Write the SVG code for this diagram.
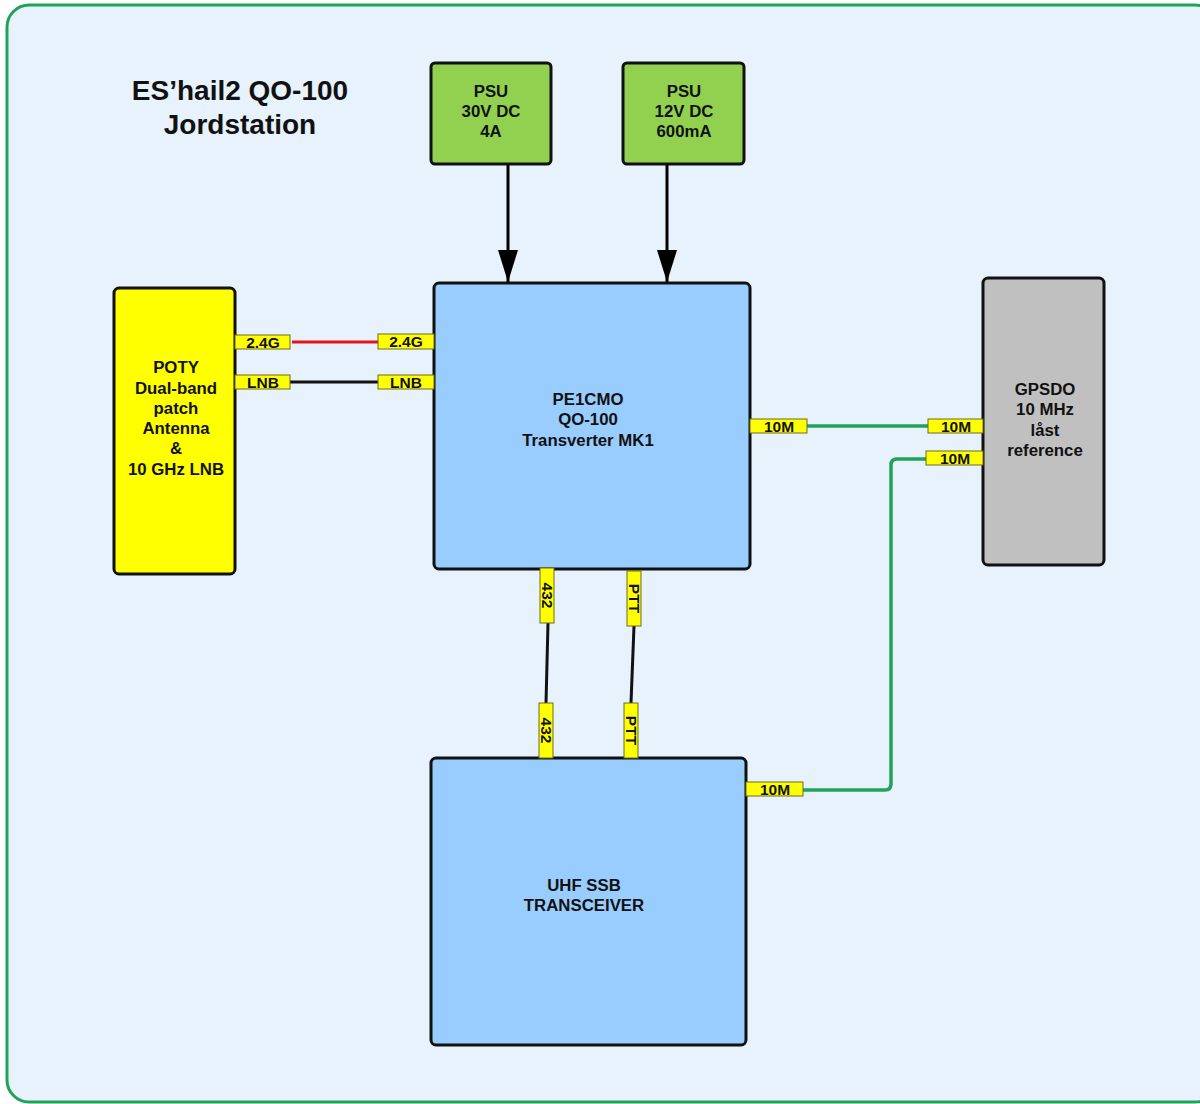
<svg xmlns="http://www.w3.org/2000/svg" width="1200" height="1104" viewBox="0 0 1200 1104">
<style>
.node{stroke:#111;stroke-width:3}
.t{font-family:"Liberation Sans",Arial,sans-serif;font-weight:bold;fill:#111;text-anchor:middle}
.nt{font-size:16.8px}
.port{fill:#ffff00;stroke:#6b6b1a;stroke-width:1}
.pt{font-family:"Liberation Sans",Arial,sans-serif;font-weight:bold;font-size:15.5px;fill:#111;text-anchor:middle}
.wire{fill:none;stroke-width:3}
.gw{stroke-width:3.5}
</style>
<defs>
<marker id="arrow" viewBox="0 0 32 20" refX="32" refY="10" markerWidth="32" markerHeight="20" markerUnits="userSpaceOnUse" orient="auto">
<path d="M0,0 L32,10 L0,20 z" fill="#000"/>
</marker>
</defs>
<rect x="7" y="5" width="1210" height="1097" rx="22" fill="#e8f2fc" stroke="#1fa35a" stroke-width="3"/>
<g id="title">
<text class="t" x="240" y="100" font-size="28">ES’hail2 QO-100</text>
<text class="t" x="240" y="134" font-size="28">Jordstation</text>
</g>
<g id="connectors">
<line x1="508" y1="164" x2="508" y2="282" stroke="#000" stroke-width="3" marker-end="url(#arrow)"/>
<line x1="667" y1="164" x2="667" y2="282" stroke="#000" stroke-width="3" marker-end="url(#arrow)"/>
<line class="wire" x1="292" y1="342" x2="378" y2="342" stroke="#e8121c"/>
<line class="wire" x1="290" y1="382" x2="378" y2="382" stroke="#111"/>
<line class="wire gw" x1="807" y1="426" x2="928" y2="426" stroke="#1fa35a"/>
<path class="wire gw" d="M926,459 H897 Q891,459 891,465 V784 Q891,790 885,790 H803" stroke="#1fa35a"/>
<line class="wire" x1="548" y1="623" x2="546" y2="703" stroke="#111"/>
<line class="wire" x1="634" y1="626" x2="631" y2="703" stroke="#111"/>
</g>
<g id="psu30">
<rect class="node" x="431" y="63" width="120" height="101" rx="4" fill="#92d050"/>
<text class="t nt" x="491" y="97">PSU</text>
<text class="t nt" x="491" y="117">30V DC</text>
<text class="t nt" x="491" y="137">4A</text>
</g>
<g id="psu12">
<rect class="node" x="623" y="63" width="121" height="101" rx="4" fill="#92d050"/>
<text class="t nt" x="684" y="97">PSU</text>
<text class="t nt" x="684" y="117">12V DC</text>
<text class="t nt" x="684" y="137">600mA</text>
</g>
<g id="transverter">
<rect class="node" x="434" y="283" width="316" height="286" rx="5" fill="#99ccff"/>
<text class="t nt" x="588" y="405">PE1CMO</text>
<text class="t nt" x="588" y="425">QO-100</text>
<text class="t nt" x="588" y="446">Transverter MK1</text>
<rect class="port" x="378" y="334" width="56" height="15"/>
<text class="pt" x="406" y="347">2.4G</text>
<rect class="port" x="378" y="375" width="56" height="14"/>
<text class="pt" x="406" y="387.5">LNB</text>
<rect class="port" x="750" y="419" width="57" height="14"/>
<text class="pt" x="779" y="431.5">10M</text>
<rect class="port" x="540" y="568" width="14" height="55"/>
<text class="pt" transform="translate(541.5,595.5) rotate(90)">432</text>
<rect class="port" x="627" y="571" width="14" height="55"/>
<text class="pt" transform="translate(628.5,598.5) rotate(90)">PTT</text>
</g>
<g id="poty">
<rect class="node" x="114" y="288" width="121" height="286" rx="5" fill="#ffff00"/>
<text class="t nt" x="176" y="373">POTY</text>
<text class="t nt" x="176" y="394">Dual-band</text>
<text class="t nt" x="176" y="414">patch</text>
<text class="t nt" x="176" y="434">Antenna</text>
<text class="t nt" x="176" y="454">&amp;</text>
<text class="t nt" x="176" y="475">10 GHz LNB</text>
<rect class="port" x="235" y="335" width="55" height="14"/>
<text class="pt" x="263" y="347.5">2.4G</text>
<rect class="port" x="235" y="375" width="55" height="14"/>
<text class="pt" x="263" y="387.5">LNB</text>
</g>
<g id="gpsdo">
<rect class="node" x="983" y="278" width="121" height="287" rx="5" fill="#c0c0c0"/>
<text class="t nt" x="1045" y="395">GPSDO</text>
<text class="t nt" x="1045" y="415">10 MHz</text>
<text class="t nt" x="1045" y="436">låst</text>
<text class="t nt" x="1045" y="456">reference</text>
<rect class="port" x="928" y="419" width="55" height="14"/>
<text class="pt" x="956" y="431.5">10M</text>
<rect class="port" x="926" y="451" width="57" height="14"/>
<text class="pt" x="955" y="463.5">10M</text>
</g>
<g id="uhf">
<rect class="node" x="431" y="758" width="315" height="287" rx="5" fill="#99ccff"/>
<text class="t nt" x="584" y="891">UHF SSB</text>
<text class="t nt" x="584" y="911">TRANSCEIVER</text>
<rect class="port" x="539" y="703" width="14" height="55"/>
<text class="pt" transform="translate(540.5,730.5) rotate(90)">432</text>
<rect class="port" x="624" y="703" width="14" height="55"/>
<text class="pt" transform="translate(625.5,730.5) rotate(90)">PTT</text>
<rect class="port" x="746" y="782" width="57" height="14"/>
<text class="pt" x="775" y="794.5">10M</text>
</g>
</svg>
